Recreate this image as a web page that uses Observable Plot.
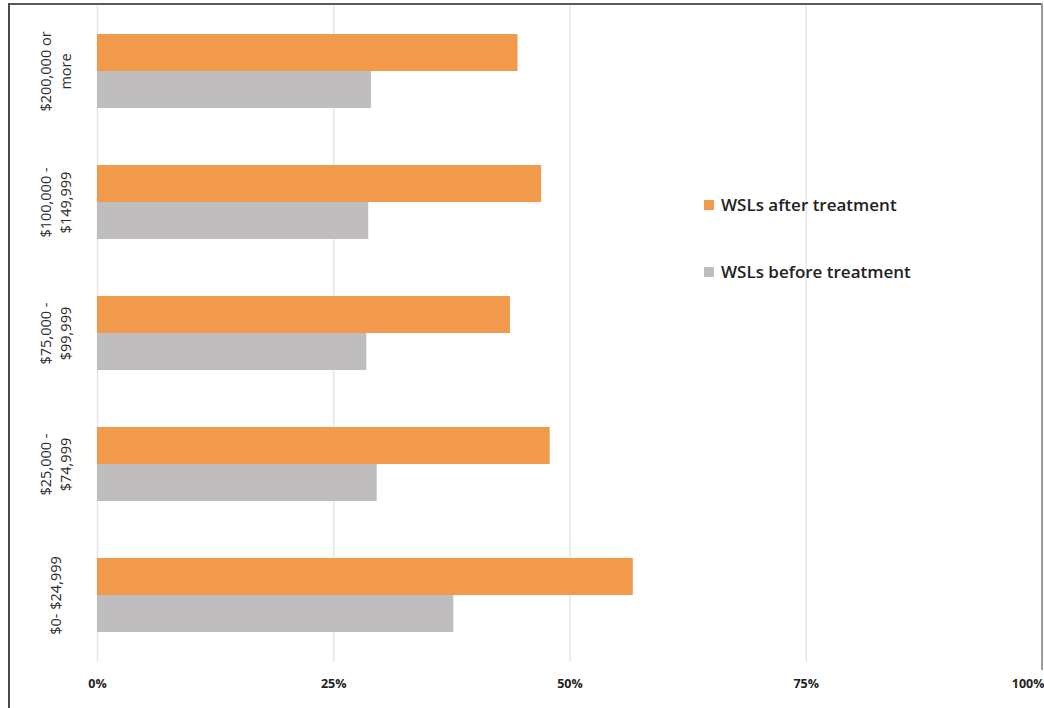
<!DOCTYPE html>
<html>
<head>
<meta charset="utf-8">
<script src="https://cdn.jsdelivr.net/npm/d3@7"></script>
<script src="https://cdn.jsdelivr.net/npm/@observablehq/plot@0.6"></script>
<style>
  html, body { margin: 0; padding: 0; background: #fff; }
  body { width: 1044px; height: 708px; position: relative; overflow: hidden; font-family: "Open Sans", sans-serif; }
  #chart { position: absolute; left: 0; top: 0; }
  .frame-top { position: absolute; left: 8px; top: 3px; width: 1035px; height: 0; border-top: 2px solid #5a5a5a; }
  .frame-left { position: absolute; left: 8px; top: 3px; width: 0; height: 705px; border-left: 2px solid #4a4a4a; }
  .frame-right { position: absolute; left: 1041px; top: 3px; width: 0; height: 667px; border-left: 2px solid #9a9a9a; }
  .legend { position: absolute; left: 704px; font-size: 17px; font-weight: 600; color: #222; }
  .legend .item { position: absolute; left: 0; white-space: nowrap; display: flex; align-items: center; line-height: 20px; }
  .legend .sw { width: 10px; height: 10px; margin-right: 7px; display: inline-block; }
</style>
</head>
<body>
<div id="chart"></div>
<div class="frame-top"></div>
<div class="frame-left"></div>
<div class="frame-right"></div>
<div class="legend" id="legend"></div>
<script>
// ---- data ----
const incomeGroups = ["$200,000 or more", "$100,000 - $149,999", "$75,000 - $99,999", "$25,000 - $74,999", "$0- $24,999"];
const groupLabels = ["$200,000 or\nmore", "$100,000 -\n$149,999", "$75,000 -\n$99,999", "$25,000 -\n$74,999", "$0- $24,999"];
const afterTreatment = [44.5, 47.0, 43.7, 47.9, 56.7];
const beforeTreatment = [29.0, 28.7, 28.5, 29.6, 37.7];
const seriesNames = ["WSLs after treatment", "WSLs before treatment"];
const seriesColors = ["#F19A4C", "#BFBDBD"];
const xTicks = [0, 25, 50, 75, 100];

const rows = incomeGroups.map((g, i) => ({group: g, after: afterTreatment[i], before: beforeTreatment[i]}));
const labelOf = new Map(incomeGroups.map((g, i) => [g, groupLabels[i]]));
const tickStyle = {tickSize: 0, tickPadding: 17, tickFormat: d => d + "%", fontSize: 12.5, fontWeight: 700, fill: "#222", label: null};

const chart = Plot.plot({
  width: 1044,
  height: 708,
  marginLeft: 97,
  marginRight: 2,
  marginTop: 5.5,
  marginBottom: 46.5,
  style: {fontFamily: "Open Sans, sans-serif", background: "transparent", overflow: "visible"},
  x: {domain: [0, 100]},
  y: {domain: incomeGroups, paddingInner: 0.435, paddingOuter: 0.2175},
  marks: [
    Plot.ruleX(xTicks, {stroke: "#e6e6e6", strokeWidth: 1.5}),
    Plot.barX(rows, {x: "after", y: "group", fill: seriesColors[0], insetBottom: 37}),
    Plot.barX(rows, {x: "before", y: "group", fill: seriesColors[1], insetTop: 37}),
    Plot.axisX({...tickStyle, ticks: xTicks.slice(0, -1)}),
    Plot.axisX({...tickStyle, ticks: xTicks.slice(-1), textAnchor: "end", dx: 2}),
    Plot.axisY({
      tickSize: 0, tickPadding: 43, tickRotate: -90,
      textAnchor: "middle", lineAnchor: "middle", lineHeight: 1.35,
      tickFormat: d => labelOf.get(d), fontSize: 14.5, fill: "#2a2a2a", label: null
    })
  ]
});
document.getElementById("chart").appendChild(chart);

// legend
const legend = document.getElementById("legend");
const legendTops = [195, 262];
seriesNames.forEach((name, i) => {
  const item = document.createElement("div");
  item.className = "item";
  item.style.top = legendTops[i] + "px";
  const sw = document.createElement("span");
  sw.className = "sw";
  sw.style.background = seriesColors[i];
  const t = document.createElement("span");
  t.textContent = name;
  item.appendChild(sw);
  item.appendChild(t);
  legend.appendChild(item);
});
</script>
</body>
</html>
